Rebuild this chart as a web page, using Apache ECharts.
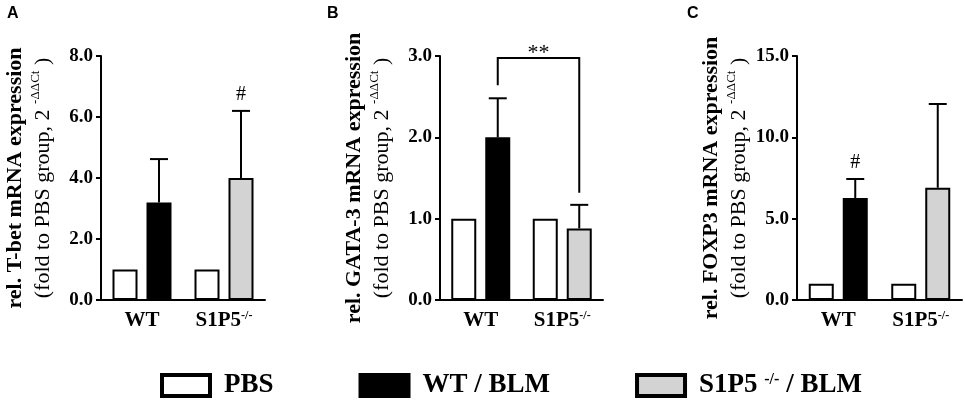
<!DOCTYPE html>
<html>
<head>
<meta charset="utf-8">
<title>T-bet, GATA-3 and FOXP3 mRNA expression</title>
<script src="https://cdn.jsdelivr.net/npm/echarts@6/dist/echarts.min.js"></script>
<style>
  html, body { margin: 0; padding: 0; background: #fff; }
  #chart { width: 965px; height: 400px; }
</style>
</head>
<body>
<div id="chart"></div>
<script>
// groups on the x axis
const categories = ['WT', 'S1P5']

// panel A: T-bet
const tbetPbs = [1.0, 1.0]
const tbetBlm = [3.2, 4.0]
const tbetUpper = [4.62, 6.2] // mean + error
const tbetMarks = ['', '#']

// panel B: GATA-3
const gataPbs = [1.0, 1.0]
const gataBlm = [2.0, 0.88]
const gataUpper = [2.48, 1.17]
const gataMarks = ['', '']

// panel C: FOXP3
const foxpPbs = [1.0, 1.0]
const foxpBlm = [6.27, 6.9]
const foxpUpper = [7.44, 12.05]
const foxpMarks = ['#', '']

// y axis: max and tick step per panel
const yMax = [8, 3, 15]
const yStep = [2, 1, 5]

const seriesNames = ['PBS', 'WT / BLM', 'S1P5 -/- / BLM']

const serif = '"Liberation Serif", "Times New Roman", serif'
const grey = '#d3d3d3'
const barWidth = 25
const barGapPx = 9
const barShift = (barWidth + barGapPx) / 2

const panels = [
    { letter: 'A', gene: 'T-bet', pbs: tbetPbs, blm: tbetBlm, upper: tbetUpper, marks: tbetMarks, letterX: 7, left: 101, right: 700 },
    { letter: 'B', gene: 'GATA-3', pbs: gataPbs, blm: gataBlm, upper: gataUpper, marks: gataMarks, letterX: 327, left: 440, right: 362 },
    { letter: 'C', gene: 'FOXP3', pbs: foxpPbs, blm: foxpBlm, upper: foxpUpper, marks: foxpMarks, letterX: 687, left: 797, right: 3 },
]

const titles = []
const grids = []
const xAxes = []
const yAxes = []
const series = []

panels.forEach((p, i) => {
    titles.push({
        text: p.letter,
        left: p.letterX,
        top: 6,
        padding: 0,
        textStyle: { fontFamily: '"Liberation Sans", Arial, sans-serif', fontWeight: 'bold', fontSize: 16, color: '#000' }
    })
    grids.push({ left: p.left, right: p.right, top: 56, bottom: 100 })
    xAxes.push({
        type: 'category',
        gridIndex: i,
        data: categories,
        axisTick: { show: false },
        axisLine: { lineStyle: { color: '#000', width: 2 } },
        axisLabel: {
            interval: 0,
            margin: 10,
            color: '#000',
            fontFamily: serif,
            fontWeight: 'bold',
            fontSize: 21,
            formatter: (v) => v === 'S1P5' ? 'S1P5{sup|-/-}' : v,
            rich: {
                sup: { fontFamily: serif, fontSize: 12, lineHeight: 12, verticalAlign: 'top', color: '#000' }
            }
        }
    })
    yAxes.push({
        type: 'value',
        gridIndex: i,
        min: 0,
        max: yMax[i],
        interval: yStep[i],
        splitLine: { show: false },
        axisLine: { show: true, lineStyle: { color: '#000', width: 2 } },
        axisTick: { show: true, length: 5, lineStyle: { color: '#000', width: 2 } },
        axisLabel: {
            margin: 8,
            color: '#000',
            fontFamily: serif,
            fontWeight: 'bold',
            fontSize: 19,
            formatter: (v) => v.toFixed(1)
        },
        name: '{b|rel. ' + p.gene + ' mRNA expression}\n{r|(fold to PBS group, 2 }{s|-ΔΔCt}{r| )}',
        nameLocation: 'middle',
        nameRotate: 90,
        nameGap: 44,
        nameTextStyle: {
            color: '#000',
            fontFamily: serif,
            rich: {
                b: { fontFamily: serif, fontWeight: 'bold', fontSize: 22, lineHeight: 28, color: '#000' },
                r: { fontFamily: serif, fontSize: 22, lineHeight: 28, color: '#000' },
                s: { fontFamily: serif, fontSize: 13, lineHeight: 14, verticalAlign: 'top', color: '#000' }
            }
        }
    })

    const barBase = {
        type: 'bar',
        xAxisIndex: i,
        yAxisIndex: i,
        barWidth: barWidth,
        barGap: (barGapPx / barWidth * 100) + '%',
        silent: true
    }
    series.push({
        ...barBase,
        name: seriesNames[0],
        data: p.pbs,
        itemStyle: { color: '#fff', borderColor: '#000', borderWidth: 2 }
    })
    // the two BLM groups share one slot per category
    series.push({
        ...barBase,
        name: seriesNames[1],
        stack: 'blm' + i,
        data: [p.blm[0], '-'],
        itemStyle: { color: '#000', borderColor: '#000', borderWidth: 2 }
    })
    series.push({
        ...barBase,
        name: seriesNames[2],
        stack: 'blm' + i,
        data: ['-', p.blm[1]],
        itemStyle: { color: grey, borderColor: '#000', borderWidth: 2 }
    })

    // upper error bars on the BLM bars, with significance marks
    series.push({
        type: 'custom',
        xAxisIndex: i,
        yAxisIndex: i,
        silent: true,
        z: 5,
        data: categories.map((c, k) => [k, p.upper[k], p.blm[k]]),
        renderItem: (params, api) => {
            const top = api.coord([api.value(0), api.value(1)])
            const base = api.coord([api.value(0), api.value(2)])
            const x = top[0] + barShift
            const children = [
                { type: 'line', shape: { x1: x, y1: base[1], x2: x, y2: top[1] }, style: { stroke: '#000', lineWidth: 2 } },
                { type: 'line', shape: { x1: x - 9, y1: top[1], x2: x + 9, y2: top[1] }, style: { stroke: '#000', lineWidth: 2 } }
            ]
            const mark = p.marks[params.dataIndex]
            if (mark) {
                children.push({
                    type: 'text',
                    style: {
                        text: mark, x: x, y: top[1] - 16,
                        align: 'center', verticalAlign: 'middle',
                        textAlign: 'center', textVerticalAlign: 'middle',
                        font: '20px ' + serif, fill: '#000'
                    }
                })
            }
            return { type: 'group', children: children }
        }
    })
})

// bracket between WT / BLM and S1P5 / BLM in panel B
series.push({
    type: 'custom',
    xAxisIndex: 1,
    yAxisIndex: 1,
    silent: true,
    z: 5,
    data: [[0, gataUpper[0], gataUpper[1]]],
    renderItem: (params, api) => {
        const left = api.coord([0, api.value(1)])
        const right = api.coord([1, api.value(2)])
        const topY = api.coord([0, yMax[1]])[1] + 2
        const x1 = left[0] + barShift
        const x2 = right[0] + barShift
        return {
            type: 'group',
            children: [
                {
                    type: 'polyline',
                    shape: { points: [[x1, left[1] - 13], [x1, topY], [x2, topY], [x2, right[1] - 12]] },
                    style: { stroke: '#000', lineWidth: 2, fill: null }
                },
                {
                    type: 'text',
                    style: {
                        text: '**', x: (x1 + x2) / 2, y: topY + 6,
                        align: 'center', verticalAlign: 'bottom',
                        textAlign: 'center', textVerticalAlign: 'bottom',
                        font: '22px ' + serif, fill: '#000'
                    }
                }
            ]
        }
    }
})

const myChart = echarts.init(document.getElementById('chart'))
myChart.setOption({
    animation: false,
    title: titles,
    grid: grids,
    xAxis: xAxes,
    yAxis: yAxes,
    legend: {
        data: seriesNames,
        left: 160,
        top: 372,
        padding: 0,
        icon: 'rect',
        itemWidth: 48,
        itemHeight: 21,
        itemGap: 85,
        selectedMode: false,
        itemStyle: { borderColor: '#000', borderWidth: 4 },
        formatter: (name) => name === seriesNames[2] ? 'S1P5 {sup|-/-} / BLM' : name,
        textStyle: {
            color: '#000',
            fontFamily: serif,
            fontWeight: 'bold',
            fontSize: 27,
            padding: [0, 0, 0, 9],
            rich: {
                sup: { fontFamily: serif, fontWeight: 'bold', fontSize: 16, lineHeight: 16, verticalAlign: 'top', color: '#000' }
            }
        }
    },
    series: series
})
</script>
</body>
</html>
